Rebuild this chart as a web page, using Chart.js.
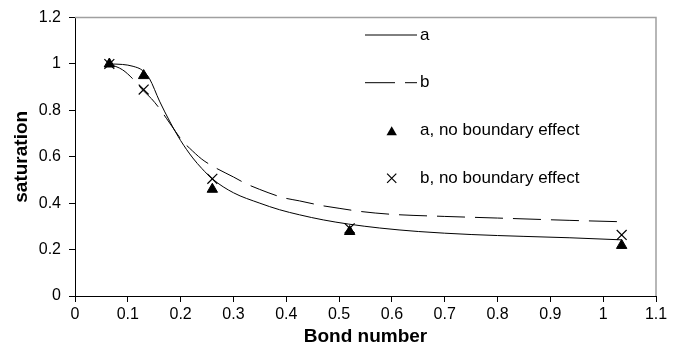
<!DOCTYPE html>
<html>
<head>
<meta charset="utf-8">
<script src="https://cdn.jsdelivr.net/npm/chart.js@4/dist/chart.umd.min.js"></script>
<style>
html,body{margin:0;padding:0;background:#fff;}
#wrap{width:677px;height:350px;position:relative;}
</style>
</head>
<body>
<div id="wrap"><canvas id="c" width="677" height="350"></canvas></div>
<script>
// ---- data ----
const bondNumbers = [0.065, 0.13, 0.26, 0.52, 1.035];
const satA = [1.0, 0.95, 0.46, 0.278, 0.218];
const satB = [1.0, 0.89, 0.505, 0.292, 0.263];

const curveAX = [0.065, 0.09, 0.11, 0.128, 0.141, 0.16, 0.18, 0.20, 0.223, 0.24, 0.261, 0.30, 0.35, 0.387, 0.425, 0.47, 0.518, 0.577, 0.65, 0.75, 0.85, 0.937, 1.035];
const curveAY = [1.0, 0.998, 0.99, 0.972, 0.937, 0.84, 0.75, 0.67, 0.595, 0.55, 0.503, 0.445, 0.40, 0.372, 0.35, 0.328, 0.31, 0.293, 0.278, 0.265, 0.257, 0.251, 0.242];

const curveBX = [0.065, 0.09, 0.109, 0.128, 0.145, 0.16, 0.173, 0.19, 0.204, 0.217, 0.24, 0.261, 0.30, 0.324, 0.349, 0.394, 0.425, 0.469, 0.50, 0.542, 0.60, 0.70, 0.80, 0.937, 1.035];
const curveBY = [1.0, 0.975, 0.937, 0.888, 0.85, 0.808, 0.766, 0.71, 0.666, 0.637, 0.59, 0.559, 0.513, 0.484, 0.46, 0.424, 0.41, 0.389, 0.378, 0.364, 0.352, 0.343, 0.336, 0.326, 0.32];

const xTicks = [0, 0.1, 0.2, 0.3, 0.4, 0.5, 0.6, 0.7, 0.8, 0.9, 1, 1.1];
const yTicks = [0, 0.2, 0.4, 0.6, 0.8, 1, 1.2];
const legendLabels = ['a', 'b', 'a, no boundary effect', 'b, no boundary effect'];
const xTitle = 'Bond number';
const yTitle = 'saturation';

const toPts = (xs, ys) => xs.map((x, i) => ({x: x, y: ys[i]}));
const FONT = "'Liberation Sans', Arial, Helvetica, sans-serif";

const framePlugin = {
  id: 'frame',
  beforeDatasetsDraw(chart) {
    const {ctx, chartArea: a} = chart;
    ctx.save();
    ctx.strokeStyle = '#a0a0a0';
    ctx.lineWidth = 1.5;
    ctx.beginPath();
    ctx.moveTo(a.left, a.top);
    ctx.lineTo(a.right, a.top);
    ctx.lineTo(a.right, a.bottom);
    ctx.stroke();
    ctx.restore();
  }
};

const legendPlugin = {
  id: 'customLegend',
  afterDraw(chart) {
    const ctx = chart.ctx;
    ctx.save();
    ctx.fillStyle = '#000';
    ctx.strokeStyle = '#000';
    ctx.font = '17px ' + FONT;
    ctx.textBaseline = 'middle';
    ctx.textAlign = 'left';
    const tx = 420;
    const rows = [35, 82.7, 130.7, 178.3];
    // row 1: solid line
    ctx.lineWidth = 1;
    ctx.beginPath(); ctx.moveTo(365, rows[0]); ctx.lineTo(417, rows[0]); ctx.stroke();
    ctx.fillText(legendLabels[0], tx, rows[0]);
    // row 2: dashed line
    ctx.beginPath(); ctx.moveTo(365, rows[1]); ctx.lineTo(395, rows[1]);
    ctx.moveTo(405, rows[1]); ctx.lineTo(417, rows[1]); ctx.stroke();
    ctx.fillText(legendLabels[1], tx, rows[1]);
    // row 3: triangle
    const cx = 391.7;
    const r = 6;
    const cy3 = rows[2] + 1.5;
    ctx.beginPath();
    ctx.moveTo(cx, cy3 - r);
    ctx.lineTo(cx + r * 0.866, cy3 + r * 0.5);
    ctx.lineTo(cx - r * 0.866, cy3 + r * 0.5);
    ctx.closePath(); ctx.fill();
    ctx.fillText(legendLabels[2], tx, rows[2]);
    // row 4: cross
    const s = 4.6;
    ctx.lineWidth = 1.2;
    ctx.beginPath();
    ctx.moveTo(cx - s, rows[3] - s); ctx.lineTo(cx + s, rows[3] + s);
    ctx.moveTo(cx + s, rows[3] - s); ctx.lineTo(cx - s, rows[3] + s);
    ctx.stroke();
    ctx.fillText(legendLabels[3], tx, rows[3]);
    ctx.restore();
  }
};

new Chart(document.getElementById('c'), {
  type: 'scatter',
  data: {
    datasets: [
      {
        label: legendLabels[0],
        data: toPts(curveAX, curveAY),
        showLine: true,
        borderColor: '#000',
        borderWidth: 1,
        pointRadius: 0,
        cubicInterpolationMode: 'monotone',
        fill: false
      },
      {
        label: legendLabels[1],
        data: toPts(curveBX, curveBY),
        showLine: true,
        borderColor: '#000',
        borderWidth: 1,
        borderDash: [28, 10],
        pointRadius: 0,
        cubicInterpolationMode: 'monotone',
        fill: false
      },
      {
        label: legendLabels[2],
        data: toPts(bondNumbers, satA),
        showLine: false,
        pointStyle: 'triangle',
        pointRadius: 6,
        backgroundColor: '#000',
        borderColor: '#000',
        borderWidth: 1
      },
      {
        label: legendLabels[3],
        data: toPts(bondNumbers, satB),
        showLine: false,
        pointStyle: 'crossRot',
        pointRadius: 7,
        backgroundColor: '#000',
        borderColor: '#000',
        borderWidth: 1.2
      }
    ]
  },
  options: {
    responsive: false,
    animation: false,
    layout: { padding: { top: 15, right: 21, left: 0, bottom: 0 } },
    plugins: { legend: { display: false }, tooltip: { enabled: false } },
    scales: {
      x: {
        type: 'linear',
        min: 0, max: 1.1,
        afterBuildTicks: (s) => { s.ticks = xTicks.map(v => ({value: v})); },
        afterFit: (s) => { s.height = 54; },
        ticks: {
          color: '#000',
          font: { family: FONT, size: 16 },
          padding: 3,
          maxRotation: 0,
          callback: (v) => String(Math.round(v * 10) / 10)
        },
        grid: { drawOnChartArea: false, drawTicks: true, tickLength: 6, color: '#000', lineWidth: 1 },
        border: { display: true, color: '#000', width: 1 },
        title: { display: true, text: xTitle, color: '#000', font: { family: FONT, size: 19, weight: 'bold' }, padding: { top: 0, bottom: 2 } }
      },
      y: {
        type: 'linear',
        min: 0, max: 1.2,
        afterBuildTicks: (s) => { s.ticks = yTicks.map(v => ({value: v})); },
        afterFit: (s) => { s.width = 75; },
        ticks: {
          color: '#000',
          font: { family: FONT, size: 16 },
          padding: 8,
          callback: (v) => String(Math.round(v * 10) / 10)
        },
        grid: { drawOnChartArea: false, drawTicks: true, tickLength: 6, color: '#000', lineWidth: 1 },
        border: { display: true, color: '#000', width: 1 },
        title: { display: true, text: yTitle, color: '#000', font: { family: FONT, size: 19, weight: 'bold' }, padding: { top: 10, bottom: 0 } }
      }
    }
  },
  plugins: [framePlugin, legendPlugin]
});
</script>
</body>
</html>
